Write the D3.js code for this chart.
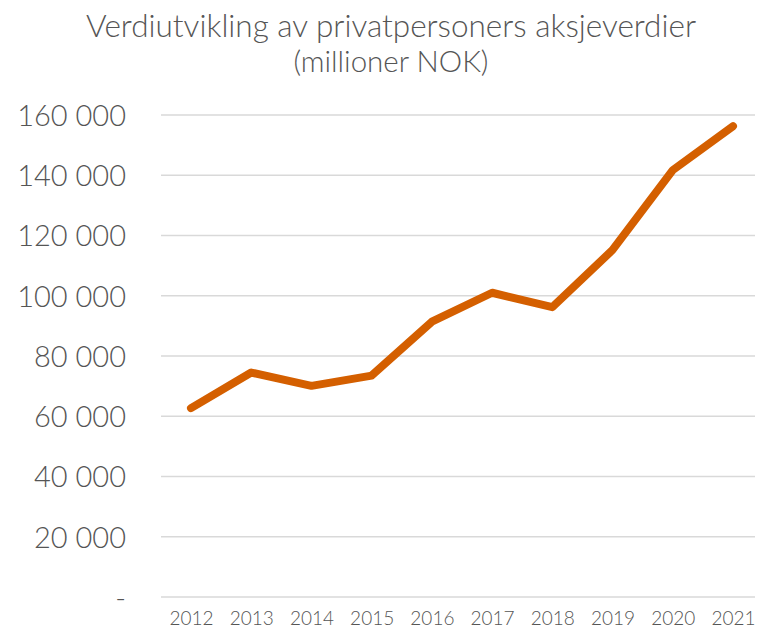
<!DOCTYPE html>
<html>
<head>
<meta charset="utf-8">
<script src="https://cdn.jsdelivr.net/npm/d3@7"></script>
<style>
  body { margin: 0; background: #fff; }
  svg text { font-family: Lato, "Open Sans", sans-serif; fill: #555555; font-weight: 300; }
</style>
</head>
<body>
<div id="chart"></div>
<script>
// years and values (millioner NOK)
var years = ["2012", "2013", "2014", "2015", "2016", "2017", "2018", "2019", "2020", "2021"];
var values = [62700, 74500, 70100, 73500, 91400, 101000, 96200, 115200, 141700, 156300];
var yTicks = [0, 20000, 40000, 60000, 80000, 100000, 120000, 140000, 160000];

var width = 758;
var height = 633;

var svg = d3.select("#chart").
  append("svg").
  attr("width", width).
  attr("height", height);

var x = d3.scalePoint().
  domain(years).
  range([191, 733]);

var y = d3.scaleLinear().
  domain([0, 160000]).
  range([597, 115]);

var fmt = function (d) {
  if (d === 0) return "-";
  return d3.format(",")(d).replace(/,/g, " ");
};

// gridlines
svg.append("g").
  selectAll("line").
  data(yTicks).
  enter().
  append("line").
  attr("x1", 161).
  attr("x2", 755).
  attr("y1", function (d) { return y(d); }).
  attr("y2", function (d) { return y(d); }).
  attr("stroke", "#d9d9d9").
  attr("stroke-width", 1.5);

// y axis labels
var yAxis = d3.axisLeft(y).tickValues(yTicks).tickFormat(fmt).tickSize(0).tickPadding(0);
var gy = svg.append("g").
  attr("transform", "translate(126,0)").
  call(yAxis);
gy.select(".domain").remove();
gy.selectAll("text").
  style("font-size", "29px").
  attr("dy", "0.36em");

// x axis labels
var xAxis = d3.axisBottom(x).tickSize(0).tickPadding(0);
var gx = svg.append("g").
  attr("transform", "translate(0,611)").
  call(xAxis);
gx.select(".domain").remove();
gx.selectAll("text").
  style("font-size", "19px").
  attr("dy", "0.71em");

// line
var line = d3.line().
  x(function (d, i) { return x(years[i]); }).
  y(function (d) { return y(d); });

svg.append("path").
  datum(values).
  attr("d", line).
  attr("fill", "none").
  attr("stroke", "#d45f00").
  attr("stroke-width", 8).
  attr("stroke-linecap", "round").
  attr("stroke-linejoin", "round");

// title
svg.append("text").
  attr("x", 391).
  attr("y", 37).
  attr("text-anchor", "middle").
  style("font-size", "31.5px").
  text("Verdiutvikling av privatpersoners aksjeverdier");

svg.append("text").
  attr("x", 391).
  attr("y", 72).
  attr("text-anchor", "middle").
  style("font-size", "29.5px").
  text("(millioner NOK)");
</script>
</body>
</html>
